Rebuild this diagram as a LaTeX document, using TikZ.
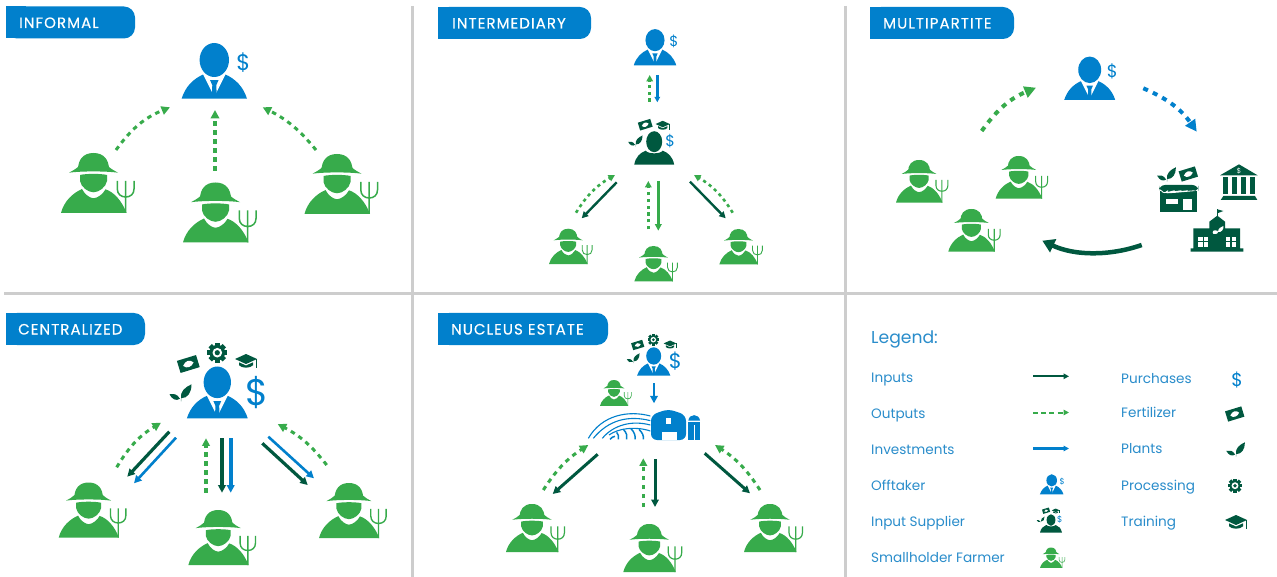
\documentclass[tikz,border=0pt]{standalone}
\usepackage{fontspec}
\setmainfont{Poppins}
\newfontfamily\bannerfont[LetterSpace=7,FakeBold=0.3]{Poppins}
\usetikzlibrary{arrows.meta}
\definecolor{cblue}{HTML}{0180CC}
\definecolor{cgreen}{HTML}{37AB4B}
\definecolor{cdark}{HTML}{00583F}
\definecolor{cgray}{HTML}{CDCDCD}
\definecolor{ctext}{HTML}{2A8DCB}
\newcounter{ic}
\tikzset{
  outp/.style={draw=cgreen,line width=#1,dash pattern=on 4.5pt off 4.5pt},
  outq/.style={draw=cgreen,line width=#1,dash pattern=on 3.2pt off 3.6pt},
  inp/.style={draw=cdark,line width=#1},
  inv/.style={draw=cblue,line width=#1},
  tip/.style={-{Triangle[length=#1,width=#1]}},
  divider/.style={draw=cgray,line width=3pt},
  bannerfill/.style={fill=cblue},
  bannertext/.style={anchor=base west,text=white,inner sep=0pt,font=\bannerfont\fontsize{15}{15}\selectfont},
  legendtext/.style={anchor=base west,text=ctext,inner sep=0pt,font=\fontsize{13.6}{14}\selectfont},
  dollartext/.style={inner sep=0pt,text=cblue,transform shape},
}
% ---- icons ----
\newcommand\farmerIcon[3]{%
\begin{scope}[shift={(#1,#2)},scale=#3]
 \fill[cgreen] (17,16.5) .. controls (17,7) and (22,0) .. (32.5,0) .. controls (43,0) and (48,7) .. (48,16.5) -- cycle;
 \fill[cgreen] (8,19.7) .. controls (12,17.5) and (15,16) .. (18,13) -- (47,13) .. controls (50,16) and (53,17.5) .. (57,19.7) .. controls (45,18) and (20,18) .. (8,19.7) -- cycle;
 \fill[cgreen] (19,22) .. controls (25,20.5) and (40,20.5) .. (46,22) -- (46,28) .. controls (45,34) and (38,39.3) .. (32.5,39.3) .. controls (27,39.3) and (20,34) .. (19,28) -- cycle;
 \fill[cgreen] (0,60) .. controls (3,48) and (12,40) .. (21,36) .. controls (24,42) and (29,45) .. (32.5,45.3) .. controls (37,45) and (42,41) .. (44.5,36.3) .. controls (53,39) and (61,48) .. (65.5,60) -- cycle;
 \draw[cgreen,line width={1.5pt*#3}] (56.3,28) -- (56.3,36) .. controls (56.3,41) and (60,44) .. (64.7,44) .. controls (69.5,44) and (73,41) .. (73,36) -- (73,28) (64.7,28) -- (64.7,60);
\end{scope}}
\newcommand\offtakerBody[4]{%
\begin{scope}[shift={(#1,#2)},scale=#3]
 \fill[cblue] (-32.7,0) .. controls (-29,-12) and (-21,-20) .. (-10.5,-24.5) -- (10.5,-24.5) .. controls (21,-20) and (29,-12) .. (32.7,0) -- cycle;
 \fill[white] (-11.5,-25) -- (-1,-4) -- (1,-4) -- (11.5,-25) -- cycle;
 \fill[white] (0,-38.7) ellipse [x radius=16.5,y radius=18.8];
 \fill[cblue] (-4.2,-18.5) -- (4.2,-18.5) -- (2,-13.5) -- (2.4,-4) -- (0,-1) -- (-2.4,-4) -- (-2,-13.5) -- cycle;
 \fill[cblue] (0,-38.7) ellipse [x radius=14.7,y radius=17];
 #4
\end{scope}}
\newcommand\smallDollar{\stepcounter{ic}\node[dollartext,font=\fontsize{22.5}{22}\selectfont] (dollar\theic) at (29,-36.5) {\$};}
\newcommand\offtakerIcon[3]{\offtakerBody{#1}{#2}{#3}{\smallDollar}}
\newcommand\fertIcon[3]{%
\begin{scope}[shift={(#1,#2)},scale=#3,rotate=17]
 \fill[cdark] (-10,-6.3) rectangle (10,6.3);
 \fill[white] (-5.5,0.3) .. controls (-2,-4.2) and (3,-4.2) .. (5.5,0) .. controls (2,4.2) and (-3,4.2) .. (-5.5,0.3) -- cycle;
\end{scope}}
\newcommand\capIcon[3]{%
\begin{scope}[shift={(#1,#2)},scale=#3]
 \fill[cdark] (-11,-1) -- (0,-6) -- (11,-1) -- (0,4) -- cycle;
 \fill[cdark] (-7,2.3) -- (0,5.5) -- (7,2.3) -- (7,5.3) .. controls (4,8.5) and (-4,8.5) .. (-7,5.3) -- cycle;
 \draw[cdark,line width={.6pt*#3}] (10.5,-1) -- (10.5,7.5);
\end{scope}}
\newcommand\plantIcon[3]{%
\begin{scope}[shift={(#1,#2)},scale=#3]
 \fill[cdark] (0,-1) .. controls (-1,-8) and (4,-12) .. (10.5,-15) .. controls (10.5,-7) and (7,-1) .. (0,-1) -- cycle;
 \fill[cdark] (-1,-.5) .. controls (-4,-6) and (-8,-5.5) .. (-11.5,-5) .. controls (-9,0) and (-5,2) .. (-1,-.5) -- cycle;
 \draw[cdark!60,line width={.5pt*#3}] (.3,-1) -- (0,2);
\end{scope}}
\newcommand\gearIcon[3]{%
\begin{scope}[shift={(#1,#2)},scale=#3]
 \foreach \a in {0,45,...,315} {\fill[cdark,rotate=\a] (-2.4,-10) rectangle (2.4,-6);}
 \fill[cdark] (0,0) circle [radius=7.8];
 \fill[white] (0,0) circle [radius=4.8];
 \fill[cdark] (0,0) circle [radius=2.6];
\end{scope}}
\newcommand\supplierIcon[3]{%
\begin{scope}[shift={(#1,#2)},scale=#3]
 \fill[cdark] (-20,0) .. controls (-18.5,-8) and (-14,-12) .. (-8.5,-14) .. controls (-6,-10.5) and (6,-10.5) .. (8.5,-14) .. controls (14,-12) and (18.5,-8) .. (20,0) -- cycle;
 \fill[cdark] (0,-23) ellipse [x radius=8,y radius=10.5];
 \stepcounter{ic}\node[dollartext,font=\fontsize{15.5}{15}\selectfont] (dollar\theic) at (16,-24) {\$};
\end{scope}
\fertIcon{#1-9*#3}{#2-40*#3}{.65*#3}
\capIcon{#1+8.5*#3}{#2-40*#3}{.65*#3}
\plantIcon{#1-18.5*#3}{#2-19.5*#3}{.65*#3}}
\newcommand\bannerBox[7]{%
 \fill[bannerfill,rounded corners=11pt] (#1,#2) rectangle (#3,#4);
 \fill[bannerfill] (#1,#2) rectangle (#1+20,#4);
 \node[bannertext] (#7) at (#5,#2+21.5) {#6};}
\begin{document}
\begin{tikzpicture}[x=1pt,y=-1pt]
\useasboundingbox (0,0) rectangle (1277,577);
\fill[white] (0,0) rectangle (1277,577);
% dividers
\coordinate (v1a) at (412,6); \coordinate (v1b) at (412,577);
\coordinate (v2a) at (845,6); \coordinate (v2b) at (845,577);
\coordinate (h1a) at (4,293.5); \coordinate (h1b) at (1277,293.5);
\draw[divider] (v1a) -- (v1b);
\draw[divider] (v2a) -- (v2b);
\draw[divider] (h1a) -- (h1b);
% banners
\bannerBox{6}{6.5}{135}{38.5}{19}{INFORMAL}{tInformal}
\bannerBox{438}{7}{591}{39}{452}{INTERMEDIARY}{tInter}
\bannerBox{870}{7}{1014}{39}{883}{MULTIPARTITE}{tMulti}
\bannerBox{6}{313}{145}{345}{18}{CENTRALIZED}{tCent}
\bannerBox{438}{313}{608}{345}{451}{NUCLEUS ESTATE}{tNuc}
% ===== Informal
\offtakerIcon{214.3}{98.7}{1}
\farmerIcon{61}{153}{1}
\farmerIcon{183}{182.5}{1}
\farmerIcon{304.5}{154}{1}
\coordinate (ia) at (116,150); \coordinate (ib) at (170,107.3);
\coordinate (ic) at (215,171); \coordinate (id) at (215,110);
\coordinate (ie) at (316,150); \coordinate (if) at (262.7,107.3);
\draw[outp=3pt,tip=8.5pt] (ia) to[bend left=16] (ib);
\draw[outp=3.8pt,tip=8.5pt] (ic) -- (id);
\draw[outp=3pt,tip=8.5pt] (ie) to[bend right=12] (if);
% ===== Intermediary
\offtakerIcon{655}{65.3}{.65}
\supplierIcon{654.2}{164.7}{1}
\farmerIcon{549}{228.7}{.59}
\farmerIcon{634.3}{246}{.59}
\farmerIcon{719.3}{229}{.59}
\coordinate (ma) at (649.7,101.7); \coordinate (mb) at (649.7,75);
\coordinate (mc) at (657.3,75); \coordinate (md) at (657.3,102.3);
\draw[outq=3.2pt,tip=6.5pt] (ma) -- (mb);
\draw[inv=2.4pt,tip=5.5pt] (mc) -- (md);
\coordinate (me) at (576,212.7); \coordinate (mf) at (615,175);
\coordinate (mg) at (616.7,182.3); \coordinate (mh) at (581.7,218.3);
\draw[outq=2.6pt,tip=6.5pt] (me) to[bend left=14] (mf);
\draw[inp=2.4pt,tip=6.5pt] (mg) -- (mh);
\coordinate (mi) at (648.3,229.3); \coordinate (mj) at (648.3,181);
\coordinate (mk) at (658.3,181); \coordinate (ml) at (658.3,230.7);
\draw[outq=2.6pt,tip=6.5pt] (mi) -- (mj);
\draw[draw=cgreen,line width=2.4pt,tip=6.5pt] (mk) -- (ml);
\coordinate (mm) at (732.7,212.7); \coordinate (mn) at (694,175);
\coordinate (mo) at (690,181.7); \coordinate (mp) at (725.7,218.3);
\draw[outq=2.6pt,tip=6.5pt] (mm) to[bend right=14] (mn);
\draw[inp=2.4pt,tip=6.5pt] (mo) -- (mp);
% ===== Multipartite
\offtakerIcon{1089.7}{100}{.78}
\farmerIcon{896}{160}{.71}
\farmerIcon{995.7}{156}{.71}
\farmerIcon{948.3}{209}{.71}
\coordinate (ua) at (981.7,131); \coordinate (ub) at (1036,87.7);
\coordinate (uc) at (1143.3,88.3); \coordinate (ud) at (1196.7,131.7);
\coordinate (ue) at (1141.7,245); \coordinate (uf) at (1042.3,240.7);
\draw[draw=cgreen,line width=4pt,dash pattern=on 5pt off 5.5pt,tip=11.5pt] (ua) to[bend left=16] (ub);
\draw[draw=cblue,line width=4pt,dash pattern=on 5pt off 5.5pt,tip=11.5pt] (uc) to[bend left=16] (ud);
\draw[inp=4.5pt,-{Triangle[length=12pt,width=14pt]}] (ue) .. controls (1110,256) and (1075,256) .. (uf);
% store
\begin{scope}[shift={(1150,160)},scale=.33333]
 \fill[cdark] (30,92) rectangle (142,157);
 \fill[cdark,rounded corners=6pt] (27,75) rectangle (145,95);
 \draw[white,line width=.8pt] (34,92) \foreach \i in {0,...,4} {.. controls (40,100) and (46,100) .. ++(20,0)} ;
 \fill[white] (48,118) rectangle (85,133);
 \fill[white] (100,118) rectangle (125,150);
\end{scope}
\plantIcon{1167}{180}{.85}
\fertIcon{1188.3}{174}{.85}
% bank
\begin{scope}[shift={(1150,160)},scale=.33333]
 \fill[cdark] (267,13) -- (323,46) -- (210,46) -- cycle;
 \foreach \x in {220,245,273,300} {\fill[cdark] (\x,52) rectangle (\x+15,103);}
 \fill[cdark] (220,108) -- (315,108) -- (322,120) -- (212,120) -- cycle;
\end{scope}
\node[inner sep=0pt,text=white,font=\fontsize{7}{7}\selectfont] (bankDollar) at (1239,170.7) {\$};
% school
\begin{scope}[shift={(1150,160)},scale=.33333]
 \draw[cdark,line width=.8pt] (202,148) -- (202,172);
 \fill[cdark] (202,148) -- (220,153) -- (202,160) -- cycle;
 \fill[cdark] (178,185) -- (202,167) -- (225,185) -- (225,205) -- (270,205) -- (270,265) -- (280,265) -- (280,275) -- (122,275) -- (122,265) -- (130,265) -- (130,205) -- (178,205) -- cycle;
 \foreach \x in {145,162,228,245} \foreach \y in {230,247} {\fill[white] (\x,\y) rectangle (\x+13,\y+13);}
 \fill[white] (190,222) .. controls (185,215) and (190,208) .. (202,212) .. controls (208,216) and (202,224) .. (190,222) -- cycle;
 \fill[white] (204,216) .. controls (204,206) and (212,200) .. (220,198) .. controls (222,208) and (214,218) .. (204,216) -- cycle;
\end{scope}
% ===== Centralized
\offtakerBody{217.3}{418.3}{.93}{}
\node[inner sep=0pt,text=cblue,font=\fontsize{37}{37}\selectfont] (centDollar) at (257.3,392.7) {\$};
\fertIcon{188.3}{364}{1}
\gearIcon{217.3}{352.7}{1}
\capIcon{246}{360}{1}
\plantIcon{181}{399.3}{1}
\farmerIcon{58.7}{482.5}{.92}
\farmerIcon{188.3}{510}{.92}
\farmerIcon{319}{483}{.92}
\coordinate (ca) at (116.7,467.3); \coordinate (cb) at (161,422.7);
\coordinate (cc) at (169.3,431.7); \coordinate (cd) at (127.3,476.7);
\coordinate (ce) at (176,437.7); \coordinate (cf) at (134,483.3);
\draw[outp=3pt,tip=8.5pt] (ca) to[bend left=14] (cb);
\draw[inp=3.2pt,tip=7.5pt] (cc) -- (cd);
\draw[inv=2.6pt,tip=7.5pt] (ce) -- (cf);
\coordinate (cg) at (206,492.7); \coordinate (ch) at (206,438.3);
\coordinate (ci) at (222,438.3); \coordinate (cj) at (222,492.7);
\coordinate (ck) at (230.7,438.3); \coordinate (cl) at (230.7,492.7);
\draw[outp=3.4pt,tip=7.5pt] (cg) -- (ch);
\draw[inp=4pt,tip=7.5pt] (ci) -- (cj);
\draw[inv=4pt,tip=7.5pt] (ck) -- (cl);
\coordinate (cm) at (326.7,465); \coordinate (cn) at (277.7,424);
\coordinate (co) at (268.3,436.7); \coordinate (cp) at (314,478.3);
\coordinate (cq) at (262.3,443.3); \coordinate (cr) at (307.7,485);
\draw[outp=3pt,tip=8.5pt] (cm) to[bend right=12] (cn);
\draw[inv=2.6pt,tip=7.5pt] (co) -- (cp);
\draw[inp=3.2pt,tip=7.5pt] (cq) -- (cr);
% ===== Nucleus estate
\offtakerBody{653.7}{375.7}{.51}{}
\node[inner sep=0pt,text=cblue,font=\fontsize{21}{21}\selectfont] (nucDollar) at (675.3,361) {\$};
\fertIcon{637.7}{345}{.58}
\gearIcon{653.3}{339.7}{.58}
\capIcon{670}{344}{.58}
\plantIcon{633.5}{362}{.58}
\farmerIcon{600}{380}{.43}
\begin{scope}[shift={(585,400)},scale=.33333]
 \fill[cblue,rounded corners=6pt] (198,120) -- (198,45) -- (250,27) -- (303,45) -- (303,120) -- cycle;
 \fill[white] (230,95) rectangle (275,120);
 \fill[white] (243,55) rectangle (258,72);
 \fill[cblue] (310,62) .. controls (312,40) and (343,40) .. (345,62) -- cycle;
 \fill[cblue] (310,66) rectangle (345,120);
 \fill[white] (325.5,76) rectangle (329.5,120);
 \draw[cblue,line width=1.1pt,fill=none] (196,48) .. controls (130,30) and (50,45) .. (10,115);
 \draw[cblue,line width=1.1pt] (196,62) .. controls (130,45) and (70,60) .. (25,115);
 \draw[cblue,line width=1.1pt] (196,75) .. controls (140,60) and (85,75) .. (52,115);
 \draw[cblue,line width=1.1pt] (196,93) .. controls (150,78) and (100,85) .. (72,105);
 \draw[cblue,line width=1.5pt] (75,118) .. controls (80,112) and (84,110) .. (90,109);
 \draw[cblue,line width=1.5pt] (100,118) .. controls (102,110) and (100,102) .. (95,97);
 \draw[cblue,line width=1.5pt] (125,118) .. controls (127,108) and (125,98) .. (115,88);
 \draw[cblue,line width=1.5pt] (150,118) .. controls (152,108) and (148,96) .. (138,86);
 \draw[cblue,line width=1.5pt] (175,118) .. controls (177,108) and (172,98) .. (162,88);
\end{scope}
\farmerIcon{506}{504}{.8}
\farmerIcon{623.3}{524}{.8}
\farmerIcon{744}{504}{.8}
\coordinate (na) at (654,383.3); \coordinate (nb) at (654,403.3);
\draw[inv=2.6pt,tip=7.5pt] (na) -- (nb);
\coordinate (nc) at (543.3,490); \coordinate (nd) at (588.3,445);
\coordinate (ne) at (597.7,454.3); \coordinate (nf) at (552.7,494);
\draw[outp=3pt,tip=8.5pt] (nc) to[bend left=12] (nd);
\draw[inp=3pt,tip=7.5pt] (ne) -- (nf);
\coordinate (ng) at (643.3,507); \coordinate (nh) at (643.3,458.3);
\coordinate (ni) at (655,459); \coordinate (nj) at (655,507);
\draw[outp=3.2pt,tip=7.5pt] (ng) -- (nh);
\draw[inp=3pt,tip=7.5pt] (ni) -- (nj);
\coordinate (nk) at (760,490); \coordinate (nl) at (715,445);
\coordinate (nm) at (704.7,453.3); \coordinate (nn) at (750,493.3);
\draw[outp=3pt,tip=8.5pt] (nk) to[bend right=12] (nl);
\draw[inp=3pt,tip=7.5pt] (nm) -- (nn);
% ===== Legend
\node[legendtext,font=\fontsize{17.2}{17}\selectfont] (lLegend) at (871,343.3) {Legend:};
\node[legendtext] (l1) at (871,382) {Inputs};
\node[legendtext] (l2) at (871,418.3) {Outputs};
\node[legendtext] (l3) at (871,454.3) {Investments};
\node[legendtext] (l4) at (871,490.3) {Offtaker};
\node[legendtext] (l5) at (871,526.7) {Input Supplier};
\node[legendtext] (l6) at (871,562.7) {Smallholder Farmer};
\node[legendtext] (r1) at (1121,383.7) {Purchases};
\node[legendtext] (r2) at (1121,417.7) {Fertilizer};
\node[legendtext] (r3) at (1121,453.7) {Plants};
\node[legendtext] (r4) at (1121,490.3) {Processing};
\node[legendtext] (r5) at (1121,526.7) {Training};
\coordinate (la) at (1033,376.3); \coordinate (lb) at (1069,376.3);
\coordinate (lc) at (1033,412.5); \coordinate (ld) at (1069,412.5);
\coordinate (le) at (1033,448.5); \coordinate (lf) at (1069,448.5);
\draw[inp=2.2pt,tip=5.5pt] (la) -- (lb);
\draw[draw=cgreen,line width=2pt,dash pattern=on 5pt off 3.2pt,tip=5.5pt] (lc) -- (ld);
\draw[inv=2.2pt,tip=5.5pt] (le) -- (lf);
\offtakerBody{1051.7}{494.3}{.36}{\smallDollar}
\supplierIcon{1051}{532.7}{.55}
\farmerIcon{1040}{547.5}{.34}
\node[inner sep=0pt,text=cblue,font=\fontsize{18.5}{18}\selectfont] (legDollar) at (1237,380) {\$};
\fertIcon{1234.7}{414}{.85}
\plantIcon{1236}{455}{.85}
\gearIcon{1235}{485.7}{.72}
\capIcon{1236}{521}{1}
\end{tikzpicture}
\end{document}
